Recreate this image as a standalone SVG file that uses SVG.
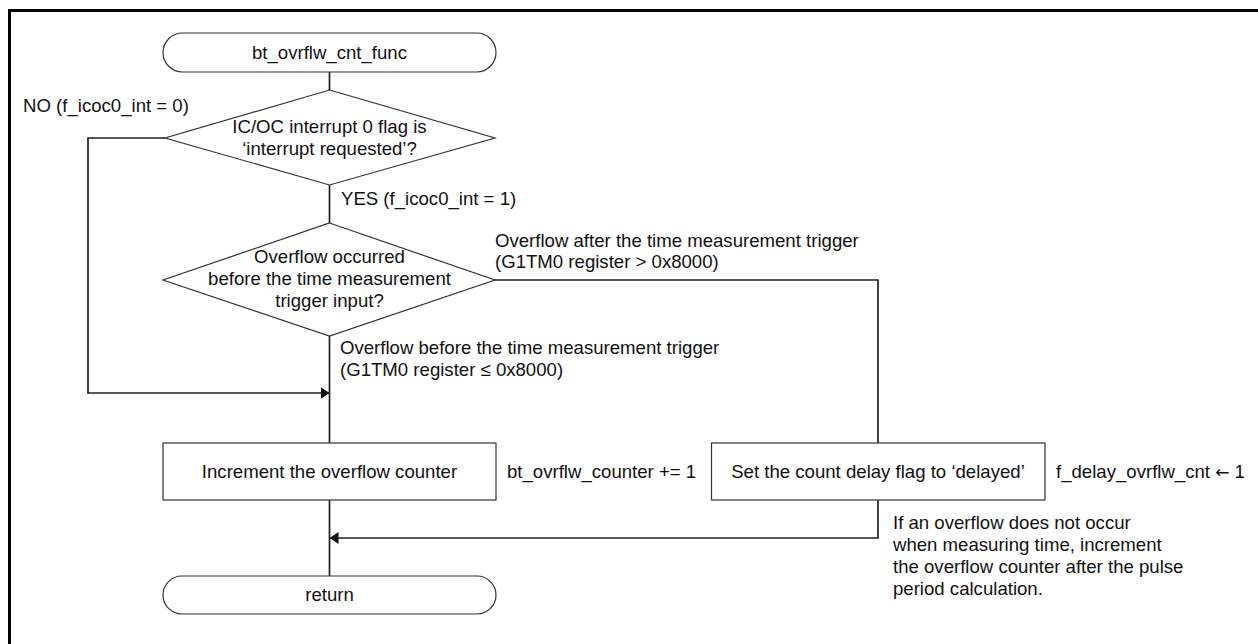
<svg xmlns="http://www.w3.org/2000/svg" width="1258" height="644" viewBox="0 0 1258 644">
<style>
  .shape { fill: #ffffff; stroke: #333333; stroke-width: 1.2; }
  .conn { fill: none; stroke: #222222; stroke-width: 1.7; }
  .frame { fill: none; stroke: #000000; stroke-width: 3; }
  text { font-family: "Liberation Sans", Arial, sans-serif; font-size: 18.6px; fill: #111111; }
  .c { text-anchor: middle; }
  .arr { font-family: "DejaVu Sans", sans-serif; font-size: 17px; }
</style>
<defs>
  <marker id="arrow" viewBox="0 0 9 12" refX="9" refY="6" markerWidth="9" markerHeight="12" markerUnits="userSpaceOnUse" orient="auto">
    <path d="M0,0 L9,6 L0,12 z" fill="#111111"/>
  </marker>
</defs>
<rect width="1258" height="644" fill="#ffffff"/>
<path class="frame" d="M9.5,644 V10.5 H1258"/>

<g id="connectors">
  <line class="conn" x1="329.5" y1="72" x2="329.5" y2="90"/>
  <line class="conn" x1="329.5" y1="185" x2="329.5" y2="223"/>
  <line class="conn" x1="329.5" y1="336" x2="329.5" y2="443"/>
  <path class="conn" d="M165,138 H88 V393 H329.5" marker-end="url(#arrow)"/>
  <path class="conn" d="M495,280 H878 V443"/>
  <line class="conn" x1="329.5" y1="500" x2="329.5" y2="576"/>
  <path class="conn" d="M878,500 V538 H329.5" marker-end="url(#arrow)"/>
</g>

<g id="start">
  <rect class="shape" x="163" y="33" width="333" height="39" rx="19.5" ry="19.5"/>
  <text class="c" x="329.5" y="59">bt_ovrflw_cnt_func</text>
</g>

<g id="decision1">
  <polygon class="shape" points="329.5,90 495,138 329.5,185 165,138"/>
  <text class="c" x="329.5" y="133">IC/OC interrupt 0 flag is</text>
  <text class="c" x="329.5" y="155">‘interrupt requested’?</text>
</g>
<g id="label-no">
  <text x="23" y="112">NO (f_icoc0_int = 0)</text>
</g>
<g id="label-yes">
  <text x="341" y="205">YES (f_icoc0_int = 1)</text>
</g>

<g id="decision2">
  <polygon class="shape" points="329.5,223 495,280 329.5,336 163,280"/>
  <text class="c" x="329.5" y="263">Overflow occurred</text>
  <text class="c" x="329.5" y="285">before the time measurement</text>
  <text class="c" x="329.5" y="307">trigger input?</text>
</g>
<g id="label-after">
  <text x="495" y="246.5">Overflow after the time measurement trigger</text>
  <text x="495" y="268">(G1TM0 register &gt; 0x8000)</text>
</g>
<g id="label-before">
  <text x="340" y="354">Overflow before the time measurement trigger</text>
  <text x="340" y="376">(G1TM0 register ≤ 0x8000)</text>
</g>

<g id="process1">
  <rect class="shape" x="163" y="443" width="333" height="57"/>
  <text class="c" x="329.5" y="478">Increment the overflow counter</text>
</g>
<g id="note1">
  <text x="507" y="478">bt_ovrflw_counter += 1</text>
</g>

<g id="process2">
  <rect class="shape" x="711.5" y="443" width="333.5" height="57"/>
  <text class="c" x="878" y="478">Set the count delay flag to ‘delayed’</text>
</g>
<g id="note2">
  <text x="1056" y="478">f_delay_ovrflw_cnt <tspan class="arr">←</tspan> 1</text>
</g>
<g id="note3">
  <text x="893" y="529">If an overflow does not occur</text>
  <text x="893" y="551">when measuring time, increment</text>
  <text x="893" y="573">the overflow counter after the pulse</text>
  <text x="893" y="595">period calculation.</text>
</g>

<g id="end">
  <rect class="shape" x="163" y="576" width="333" height="38" rx="19" ry="19"/>
  <text class="c" x="329.5" y="601">return</text>
</g>
</svg>
